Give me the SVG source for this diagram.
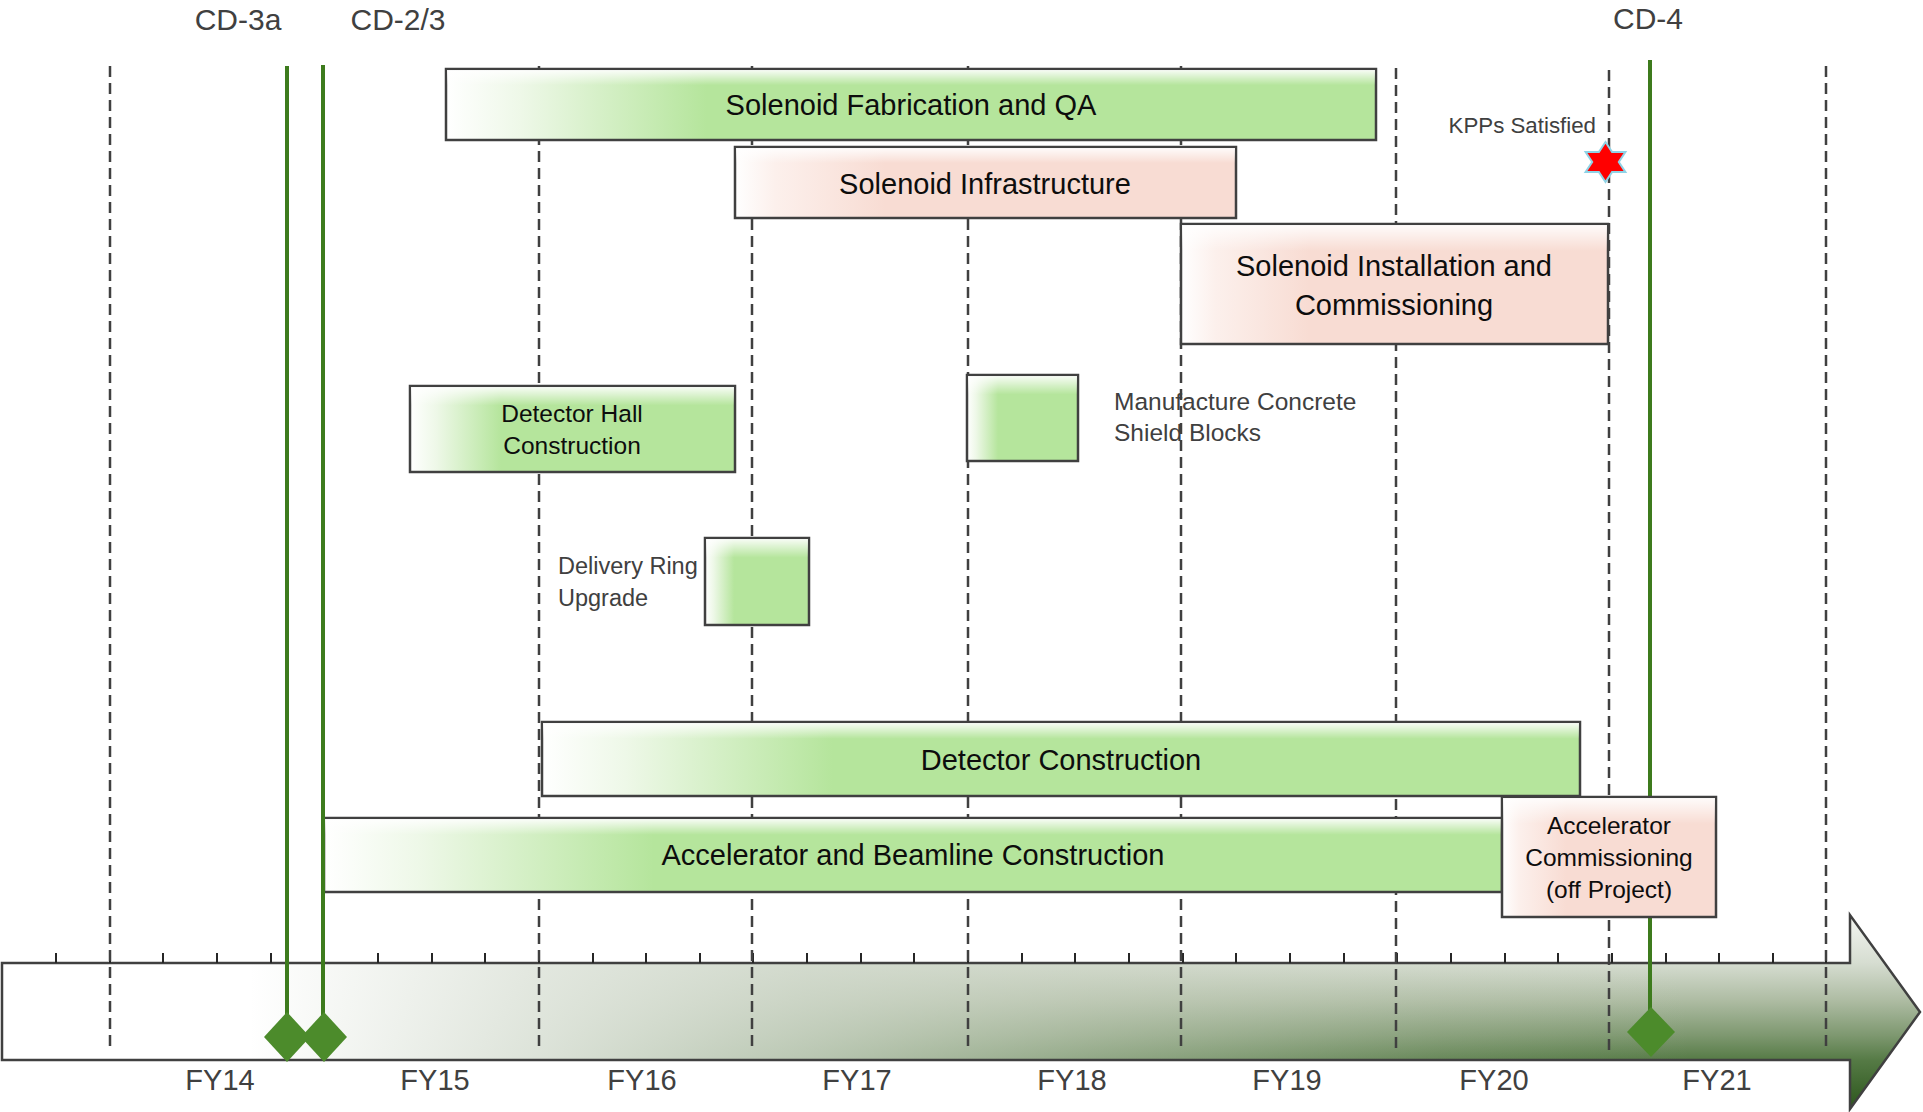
<svg xmlns="http://www.w3.org/2000/svg" width="1923" height="1112" viewBox="0 0 1923 1112">
<style>
  .box { stroke: #404040; stroke-width: 2.5; }
  .lbl { font-family: "Liberation Sans", Arial, sans-serif; fill: #0d0d0d; text-anchor: middle; }
  .big { font-size: 29px; }
  .sm { font-size: 24.5px; }
  .dr { font-size: 23.5px; }
  .out { font-family: "Liberation Sans", Arial, sans-serif; fill: #404040; }
  .cd { font-size: 30px; text-anchor: middle; }
  .fy { font-size: 29px; text-anchor: middle; }
  .grid { stroke: #404040; stroke-width: 2.5; stroke-dasharray: 11 6; fill: none; }
  .ms { stroke: #3d7b1d; stroke-width: 4; fill: none; }
  .dia { fill: #4c8b2b; }
</style>
<defs>
  <linearGradient id="gGreen" x1="0" y1="0" x2="1" y2="0">
    <stop offset="0" stop-color="#ffffff"/>
    <stop offset="0.08" stop-color="#eef8e8"/>
    <stop offset="0.28" stop-color="#b5e59c"/>
    <stop offset="1" stop-color="#b5e59c"/>
  </linearGradient>
  <linearGradient id="gPink" x1="0" y1="0" x2="1" y2="0">
    <stop offset="0" stop-color="#ffffff"/>
    <stop offset="0.08" stop-color="#fcf0ec"/>
    <stop offset="0.3" stop-color="#f8dcd3"/>
    <stop offset="1" stop-color="#f8dcd3"/>
  </linearGradient>
  <linearGradient id="gTop" x1="0" y1="0" x2="0" y2="1">
    <stop offset="0" stop-color="#ffffff" stop-opacity="0.9"/>
    <stop offset="0.22" stop-color="#ffffff" stop-opacity="0"/>
    <stop offset="1" stop-color="#ffffff" stop-opacity="0"/>
  </linearGradient>
  <linearGradient id="gBarV" gradientUnits="userSpaceOnUse" x1="0" y1="915" x2="0" y2="1109">
    <stop offset="0" stop-color="#f4f6f2"/>
    <stop offset="0.247" stop-color="#d6ddd1"/>
    <stop offset="0.44" stop-color="#aebca3"/>
    <stop offset="0.62" stop-color="#7e9870"/>
    <stop offset="0.75" stop-color="#557a45"/>
    <stop offset="1" stop-color="#2c561c"/>
  </linearGradient>
  <linearGradient id="gBarH" gradientUnits="userSpaceOnUse" x1="0" y1="0" x2="1923" y2="0">
    <stop offset="0" stop-color="#ffffff" stop-opacity="1"/>
    <stop offset="0.13" stop-color="#ffffff" stop-opacity="1"/>
    <stop offset="0.28" stop-color="#e3e8e0" stop-opacity="0.95"/>
    <stop offset="0.42" stop-color="#d2dacd" stop-opacity="0.8"/>
    <stop offset="0.57" stop-color="#cdd5c6" stop-opacity="0.5"/>
    <stop offset="0.75" stop-color="#cdd5c6" stop-opacity="0.15"/>
    <stop offset="0.88" stop-color="#cdd5c6" stop-opacity="0"/>
    <stop offset="1" stop-color="#cdd5c6" stop-opacity="0"/>
  </linearGradient>
</defs>
<rect x="0" y="0" width="1923" height="1112" fill="#ffffff"/>

<g id="timeline">
  <path d="M2,963 H1850 V915 L1920,1012 L1850,1109 V1060 H2 Z" fill="url(#gBarV)"/>
  <path d="M2,963 H1850 V915 L1920,1012 L1850,1109 V1060 H2 Z" fill="url(#gBarH)"/>
  <path d="M2,963 H1850 V915 L1920,1012 L1850,1109 V1060 H2 Z" fill="none" stroke="#404040" stroke-width="2.5"/>
  <path stroke="#262626" stroke-width="2" d="M56,953V963 M110,953V963 M163,953V963 M217,953V963 M271,953V963 M324,953V963 M378,953V963 M432,953V963 M485,953V963 M539,953V963 M593,953V963 M646,953V963 M700,953V963 M753,953V963 M807,953V963 M861,953V963 M914,953V963 M968,953V963 M1022,953V963 M1075,953V963 M1129,953V963 M1183,953V963 M1236,953V963 M1290,953V963 M1344,953V963 M1397,953V963 M1451,953V963 M1505,953V963 M1558,953V963 M1612,953V963 M1666,953V963 M1719,953V963 M1773,953V963 M1826,953V963"/>
  <g class="out fy">
    <text x="220" y="1090">FY14</text>
    <text x="435" y="1090">FY15</text>
    <text x="642" y="1090">FY16</text>
    <text x="857" y="1090">FY17</text>
    <text x="1072" y="1090">FY18</text>
    <text x="1287" y="1090">FY19</text>
    <text x="1494" y="1090">FY20</text>
    <text x="1717" y="1090">FY21</text>
  </g>
</g>

<g id="connectors">
  <path class="grid" d="M110,66V1050 M539,66V1050 M752,66V1050 M968,66V1050 M1181,66V1050 M1396,68V1050 M1609,70V1050 M1826,66V1050"/>
</g>

<g id="solenoid-fabrication">
  <rect class="box" x="446" y="69" width="930" height="71" fill="url(#gGreen)"/>
  <rect x="447" y="70" width="928" height="69" fill="url(#gTop)"/>
  <text class="lbl big" x="911" y="115">Solenoid Fabrication and QA</text>
</g>
<g id="solenoid-infrastructure">
  <rect class="box" x="735" y="147" width="501" height="71" fill="url(#gPink)"/>
  <rect x="736" y="148" width="499" height="69" fill="url(#gTop)"/>
  <text class="lbl big" x="985" y="194">Solenoid Infrastructure</text>
</g>
<g id="solenoid-installation">
  <rect class="box" x="1181" y="224" width="427" height="120" fill="url(#gPink)"/>
  <rect x="1182" y="225" width="425" height="118" fill="url(#gTop)"/>
  <text class="lbl big" x="1394" y="276">Solenoid Installation and</text>
  <text class="lbl big" x="1394" y="315">Commissioning</text>
</g>
<g id="detector-hall">
  <rect class="box" x="410" y="386" width="325" height="86" fill="url(#gGreen)"/>
  <rect x="411" y="387" width="323" height="84" fill="url(#gTop)"/>
  <text class="lbl sm" x="572" y="422">Detector Hall</text>
  <text class="lbl sm" x="572" y="454">Construction</text>
</g>
<g id="shield-blocks">
  <rect class="box" x="967" y="375" width="111" height="86" fill="url(#gGreen)"/>
  <rect x="968" y="376" width="109" height="84" fill="url(#gTop)"/>
  <text class="out sm" x="1114" y="410">Manufacture Concrete</text>
  <text class="out sm" x="1114" y="441">Shield Blocks</text>
</g>
<g id="delivery-ring">
  <rect class="box" x="705" y="538" width="104" height="87" fill="url(#gGreen)"/>
  <rect x="706" y="539" width="102" height="85" fill="url(#gTop)"/>
  <text class="out dr" x="558" y="574">Delivery Ring</text>
  <text class="out dr" x="558" y="606">Upgrade</text>
</g>
<g id="detector-construction">
  <rect class="box" x="542" y="722" width="1038" height="74" fill="url(#gGreen)"/>
  <rect x="543" y="723" width="1036" height="72" fill="url(#gTop)"/>
  <text class="lbl big" x="1061" y="770">Detector Construction</text>
</g>
<g id="accelerator-beamline">
  <rect class="box" x="324" y="818" width="1178" height="74" fill="url(#gGreen)"/>
  <rect x="325" y="819" width="1176" height="72" fill="url(#gTop)"/>
  <text class="lbl big" x="913" y="865">Accelerator and Beamline Construction</text>
</g>

<g id="milestone-cd3a">
  <line class="ms" x1="287" y1="66" x2="287" y2="1015"/>
  <polygon class="dia" points="287,1012 310,1037 287,1062 264,1037"/>
  <text class="out cd" x="238" y="30">CD-3a</text>
</g>
<g id="milestone-cd23">
  <line class="ms" x1="323" y1="65" x2="323" y2="1015"/>
  <polygon class="dia" points="324,1012 347,1037 324,1062 301,1037"/>
  <text class="out cd" x="398" y="30">CD-2/3</text>
</g>
<g id="milestone-cd4">
  <line class="ms" x1="1650" y1="60" x2="1650" y2="1010"/>
  <polygon class="dia" points="1651,1007 1675,1032 1651,1057 1627,1032"/>
  <text class="out cd" x="1648" y="29">CD-4</text>
</g>

<g id="accelerator-commissioning">
  <rect class="box" x="1502" y="797" width="214" height="120" fill="url(#gPink)"/>
  <rect x="1503" y="798" width="212" height="118" fill="url(#gTop)"/>
  <text class="lbl sm" x="1609" y="834">Accelerator</text>
  <text class="lbl sm" x="1609" y="866">Commissioning</text>
  <text class="lbl sm" x="1609" y="898">(off Project)</text>
</g>

<g id="kpps-satisfied">
  <text class="out" x="1596" y="133" font-size="22.3" text-anchor="end">KPPs Satisfied</text>
  <polygon points="1605.5,142 1612.1,152 1625.4,152 1618.8,162 1625.4,172 1612.1,172 1605.5,182 1598.9,172 1585.6,172 1592.2,162 1585.6,152 1598.9,152" fill="#ff0000" stroke="#8fd3e6" stroke-width="2"/>
</g>
</svg>
